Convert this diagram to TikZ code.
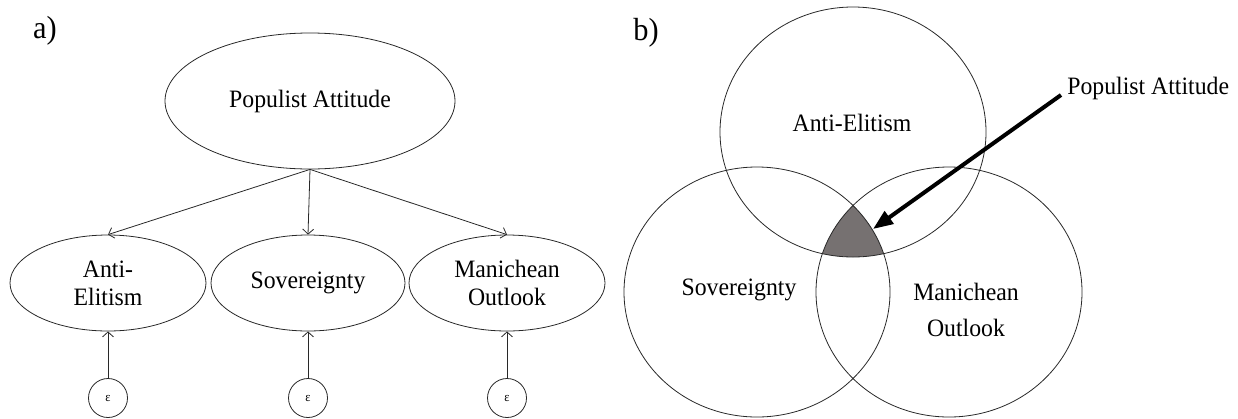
\documentclass[tikz,border=0pt]{standalone}
\usepackage{fontspec}
\setmainfont[FakeStretch=0.95]{Liberation Serif}
\usetikzlibrary{shapes.geometric,arrows.meta}
\definecolor{shadegray}{RGB}{118,113,113}
\definecolor{linegray}{RGB}{40,40,40}
\begin{document}
\begin{tikzpicture}[x=1pt,y=-1pt,
  line width=0.8pt, draw=linegray,
  lbl/.style={font=\fontsize{25}{28}\selectfont, align=center, inner sep=0pt},
  ell/.style={draw=linegray, ellipse, inner sep=0pt, lbl},
  epsnode/.style={draw=linegray, circle, minimum size=39pt, inner sep=0pt, font=\fontsize{13}{15}\selectfont},
  thinarrow/.style={draw=linegray, -{Straight Barb[length=5pt,width=11pt]}},
  vennell/.style={draw=linegray, ellipse, minimum width=266pt, minimum height=250pt, inner sep=0pt},
  panel/.style={font=\fontsize{32}{36}\selectfont, inner sep=0pt},
  bigarrow/.style={draw=black, line width=4pt, -{Triangle[length=20pt,width=15pt]}}
]
\useasboundingbox (0,0) rectangle (1238,418);

% ---------- panel a ----------
\node[panel] (la) at (45,31) {a)};
\node[ell, minimum width=290pt, minimum height=136pt] (top) at (310,101) {Populist Attitude};
\node[ell, minimum width=196pt, minimum height=96pt] (anti) at (108,283) {Anti-\\Elitism};
\node[ell, minimum width=194pt, minimum height=96pt] (sov) at (308,283) {Sovereignty};
\node[ell, minimum width=196pt, minimum height=96pt] (man) at (507,283) {Manichean\\Outlook};
\node[epsnode] (e1) at (108,398) {ε};
\node[epsnode] (e2) at (308,398) {ε};
\node[epsnode] (e3) at (507,398) {ε};
\draw[thinarrow] (top.south) -- (anti.north);
\draw[thinarrow] (top.south) -- (sov.north);
\draw[thinarrow] (top.south) -- (man.north);
\draw[thinarrow] (e1.north) -- (anti.south);
\draw[thinarrow] (e2.north) -- (sov.south);
\draw[thinarrow] (e3.north) -- (man.south);

% ---------- panel b ----------
\node[panel] (lb) at (646,33) {b)};
\begin{scope}
  \clip (853,132) ellipse [x radius=133, y radius=125];
  \clip (757,292) ellipse [x radius=133, y radius=125];
  \fill[shadegray] (949,292) ellipse [x radius=133, y radius=125];
\end{scope}
\node[vennell] (vtop) at (853,132) {};
\node[vennell] (vleft) at (757,292) {};
\node[vennell] (vright) at (949,292) {};
\node[lbl] (tanti) at (852,123) {Anti-Elitism};
\node[lbl] (tsov) at (739,290) {Sovereignty};
\node[lbl, font=\fontsize{25}{36}\selectfont] (tman) at (966,310) {Manichean\\Outlook};
\node[lbl, anchor=west] (pa) at (1067,88) {Populist Attitude};
\coordinate (patip) at (873,229);
\draw[bigarrow] ([xshift=-6pt,yshift=-7pt]pa.west) -- (patip);
\end{tikzpicture}
\end{document}
